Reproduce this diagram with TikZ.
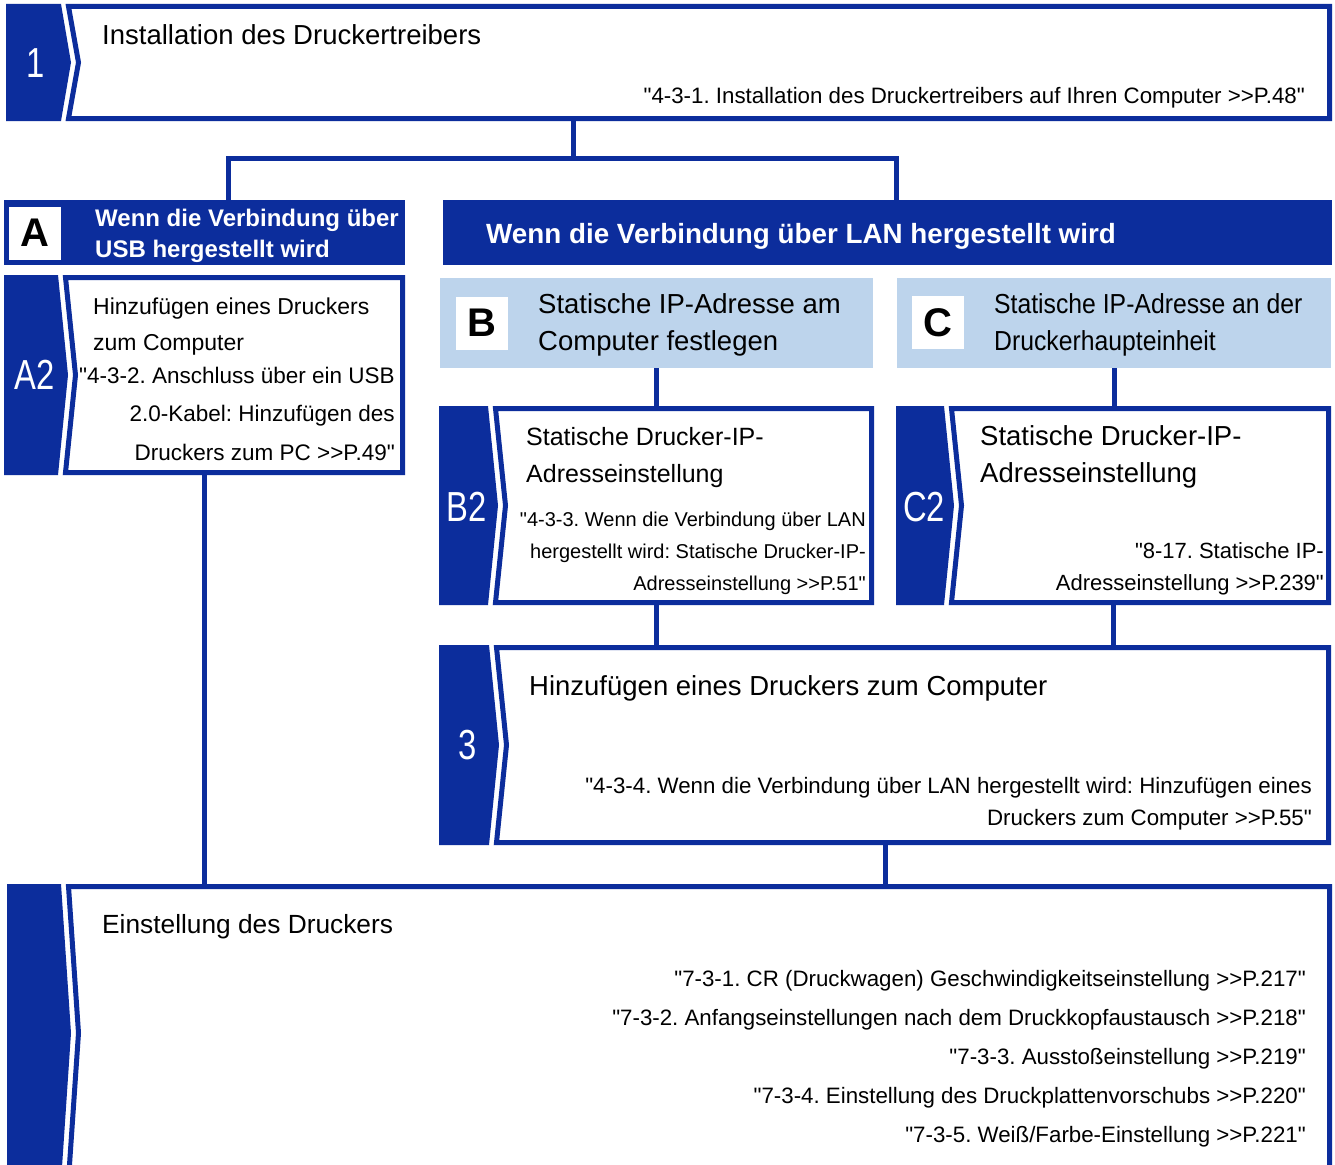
\documentclass[tikz,border=0pt]{standalone}
\usepackage{fontspec}
\setmainfont{Liberation Sans}[Ligatures=TeXOff]
\newfontfamily\narrowfont{Liberation Sans}[FakeStretch=0.78, Ligatures=TeXOff]
\newfontfamily\slimfont{Liberation Sans}[FakeStretch=0.9, Ligatures=TeXOff]
\definecolor{flowBlue}{HTML}{0C2D9C}
\definecolor{skyHead}{HTML}{BDD4EC}
\usetikzlibrary{positioning, fit, calc}
\frenchspacing

\newcommand{\fsz}[2]{\fontsize{#1pt}{#2pt}\selectfont}
% step panel: name, tab left, tab right, right, top, bottom
\newcommand{\stepPanel}[6]{%
  \fill[flowBlue] (#2,#5) -- (#3,#5) -- (#3+10,{(#5+#6)/2}) -- (#3,#6) -- (#2,#6) -- cycle;
  \draw[frame] (#3+7.5,#5+2.5) -- (#4-2.5,#5+2.5) -- (#4-2.5,#6-2.5) -- (#3+7.5,#6-2.5) -- (#3+17.5,{(#5+#6)/2}) -- cycle;
  \node[inner sep=0pt, fit={(#2,#5) (#4,#6)}] (#1) {};
}

\begin{document}
\begin{tikzpicture}[x=1pt, y=-1pt,
  frame/.style={draw=flowBlue, line width=5pt, line join=miter},
  link/.style={draw=flowBlue, line width=5pt},
  title/.style={anchor=base west, inner sep=0pt, align=left, font=\fsz{27.5}{37}},
  ref/.style={anchor=base east, inner sep=0pt, align=right, font=\fsz{22.3}{39}},
  tabtxt/.style={text=white, inner sep=0pt, font=\narrowfont\fsz{42}{42}},
  darkhead/.style={fill=flowBlue, inner sep=0pt},
  lighthead/.style={fill=skyHead, inner sep=0pt},
  letterbox/.style={fill=white, inner sep=0pt, minimum width=52pt, minimum height=53pt, font=\bfseries\fsz{40}{40}},
  headtxt/.style={anchor=base west, inner sep=0pt, align=left, text=white, font=\bfseries\fsz{24}{31}},
]
  \useasboundingbox (0,0) rectangle (1335,1164);
  \clip (0,0) rectangle (1335,1164);
  \fill[white] (0,0) rectangle (1335,1164);

  % step 1
  \stepPanel{s1}{6}{61}{1332}{4}{121}
  \node[tabtxt] (s1num) at (36,63) {1};
  \node[title] (s1title) at (102,45) {Installation des Druckertreibers};
  \node[ref] (s1ref) at (1305,103) {"4-3-1. Installation des Druckertreibers auf Ihren Computer >>P.48"};

  % USB / LAN
  \coordinate (split) at (573,158);
  \node[darkhead, minimum width=401pt, minimum height=65pt] (usbhead) at (204.5,232.5) {};
  \node[darkhead, minimum width=889pt, minimum height=65pt] (lanhead) at (887.5,232.5) {};
  \draw[link] (s1.south -| split) -- (split);
  \draw[link] ([xshift=23.5pt]usbhead.north) |- (split) -| ([xshift=8.5pt]lanhead.north);
  \node[letterbox] (usbletter) at (35,233) {A};
  \node[headtxt] (usbtxt) at (95,257) {Wenn die Verbindung über\\USB hergestellt wird};
  \node[headtxt, font=\bfseries\fsz{27.8}{34}] (lantxt) at (486,243) {Wenn die Verbindung über LAN hergestellt wird};

  % A2
  \stepPanel{a2}{4}{58}{405}{275}{475}
  \node[tabtxt] (a2num) at (35,375) {A2};
  \node[title, font=\fsz{23}{36}] (a2title) at (93,350) {Hinzufügen eines Druckers\\zum Computer};
  \node[ref, font=\fsz{22.5}{38.5}] (a2ref) at (395,460) {"4-3-2. Anschluss über ein USB\\2.0-Kabel: Hinzufügen des\\Druckers zum PC >>P.49"};

  % B / C
  \node[lighthead, minimum width=433pt, minimum height=90pt] (bhead) at (656.5,323) {};
  \node[lighthead, minimum width=434pt, minimum height=90pt] (chead) at (1114,323) {};
  \node[letterbox] (bletter) at (482,323) {B};
  \node[letterbox] (cletter) at (937.5,322.5) {C};
  \node[title] (btxt) at (538,350) {Statische IP-Adresse am\\Computer festlegen};
  \node[title, font=\slimfont\fsz{27.5}{37}] (ctxt) at (994,350) {Statische IP-Adresse an der\\Druckerhaupteinheit};

  % B2 / C2
  \stepPanel{b2}{439}{488}{874}{406}{605}
  \stepPanel{c2}{896}{944}{1331}{406}{605}
  \draw[link] (bhead.south) -- (bhead.south |- b2.north);
  \draw[link] (chead.south) -- (chead.south |- c2.north);
  \node[tabtxt] (b2num) at (467,507) {B2};
  \node[tabtxt] (c2num) at (924,507) {C2};
  \node[title, font=\fsz{25}{37}] (b2title) at (526,482) {Statische Drucker-IP-\\Adresseinstellung};
  \node[title] (c2title) at (980,482) {Statische Drucker-IP-\\Adresseinstellung};
  \node[ref, font=\fsz{20}{32}] (b2ref) at (866,590) {"4-3-3. Wenn die Verbindung über LAN\\hergestellt wird: Statische Drucker-IP-\\Adresseinstellung >>P.51"};
  \node[ref, font=\fsz{22}{32}] (c2ref) at (1324,590) {"8-17. Statische IP-\\Adresseinstellung >>P.239"};

  % step 3
  \stepPanel{p3}{439}{489}{1331}{645}{845}
  \draw[link] (b2.south) -- (b2.south |- p3.north);
  \draw[link] (c2.south) -- (c2.south |- p3.north);
  \node[tabtxt] (p3num) at (468,745) {3};
  \node[title] (p3title) at (529,695) {Hinzufügen eines Druckers zum Computer};
  \node[ref, font=\fsz{22.3}{32}] (p3ref) at (1312,825) {"4-3-4. Wenn die Verbindung über LAN hergestellt wird: Hinzufügen eines\\Druckers zum Computer >>P.55"};

  % printer settings
  \stepPanel{p4}{7}{61}{1332}{884}{1182}
  \draw[link] (a2.south) -- (a2.south |- p4.north);
  \draw[link] (p3.south) -- (p3.south |- p4.north);
  \node[title, font=\fsz{26.3}{37}] (p4title) at (102,933) {Einstellung des Druckers};
  \node[ref] (p4ref) at (1306,1142) {"7-3-1. CR (Druckwagen) Geschwindigkeitseinstellung >>P.217"\\"7-3-2. Anfangseinstellungen nach dem Druckkopfaustausch >>P.218"\\"7-3-3. Ausstoßeinstellung >>P.219"\\"7-3-4. Einstellung des Druckplattenvorschubs >>P.220"\\"7-3-5. Weiß/Farbe-Einstellung >>P.221"};
\end{tikzpicture}
\end{document}
